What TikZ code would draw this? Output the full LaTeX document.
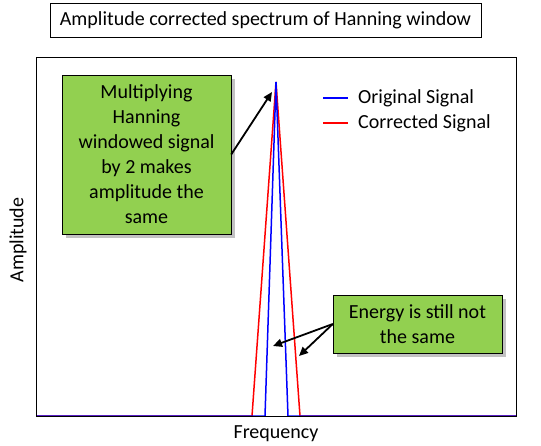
\documentclass[tikz,border=0pt]{standalone}
\usepackage{fontspec}
\setmainfont{Carlito}
\definecolor{note}{RGB}{146, 208, 80}
\definecolor{origblue}{RGB}{0, 0, 255}
\definecolor{corrred}{RGB}{255, 0, 0}
\usetikzlibrary{calc,shapes,positioning,shadows,arrows.meta}
\newcommand{\bigtext}{\fontsize{20}{25}\selectfont}

\begin{document}
\begin{tikzpicture}[x=1pt, y=-1pt,
    notebox/.style={draw=black, fill=note, align=center, inner sep=2pt, font=\bigtext,
        drop shadow={shadow xshift=4pt, shadow yshift=-4pt, opacity=0.4, fill=black!60}},
    pointer/.style={-{Triangle[length=9pt,width=8pt]}, line width=1.8pt}]
    \useasboundingbox (0,0) rectangle (541,446);

    % title
    \node[draw=black, minimum width=431pt, minimum height=34pt, font=\bigtext] (title) at (265.5,20) {Amplitude corrected spectrum of Hanning window};

    % signals
    \draw[corrred, line width=1.5pt] (36,416) -- (252,416) -- (276,82) -- (300,416) -- (516,416);
    \draw[origblue, line width=1.5pt] (36,416) -- (265,416) -- (276,82) -- (288,416) -- (516,416);

    % frame and axis labels
    \draw[line width=0.8pt] (36,57) rectangle (516,416);
    \node[rotate=90, font=\bigtext] (ylab) at (18,240) {Amplitude};
    \node[font=\bigtext] (xlab) at (276,434) {Frequency};

    % legend
    \draw[origblue, line width=1.5pt] (323,98) -- (348,98);
    \node[anchor=west, font=\bigtext, inner sep=0pt] (leg1) at (358,98) {Original Signal};
    \draw[corrred, line width=1.5pt] (323,123) -- (348,123);
    \node[anchor=west, font=\bigtext, inner sep=0pt] (leg2) at (358,123) {Corrected Signal};

    % notes
    \node[notebox, minimum width=169pt, minimum height=159pt] (hint1) at (146.5,154.5)
        {Multiplying\\Hanning\\windowed signal\\by 2 makes\\amplitude the\\same};
    \node[notebox, minimum width=169pt, minimum height=58pt] (hint2) at (417.5,324)
        {Energy is still not\\the same};

    \coordinate (peak) at (272,92);
    \coordinate (blueside) at (273,346);
    \coordinate (redside) at (299,356);
    \draw[pointer] (hint1.east) -- (peak);
    \draw[pointer] (hint2.west) -- (blueside);
    \draw[pointer] (hint2.west) -- (redside);
\end{tikzpicture}
\end{document}
